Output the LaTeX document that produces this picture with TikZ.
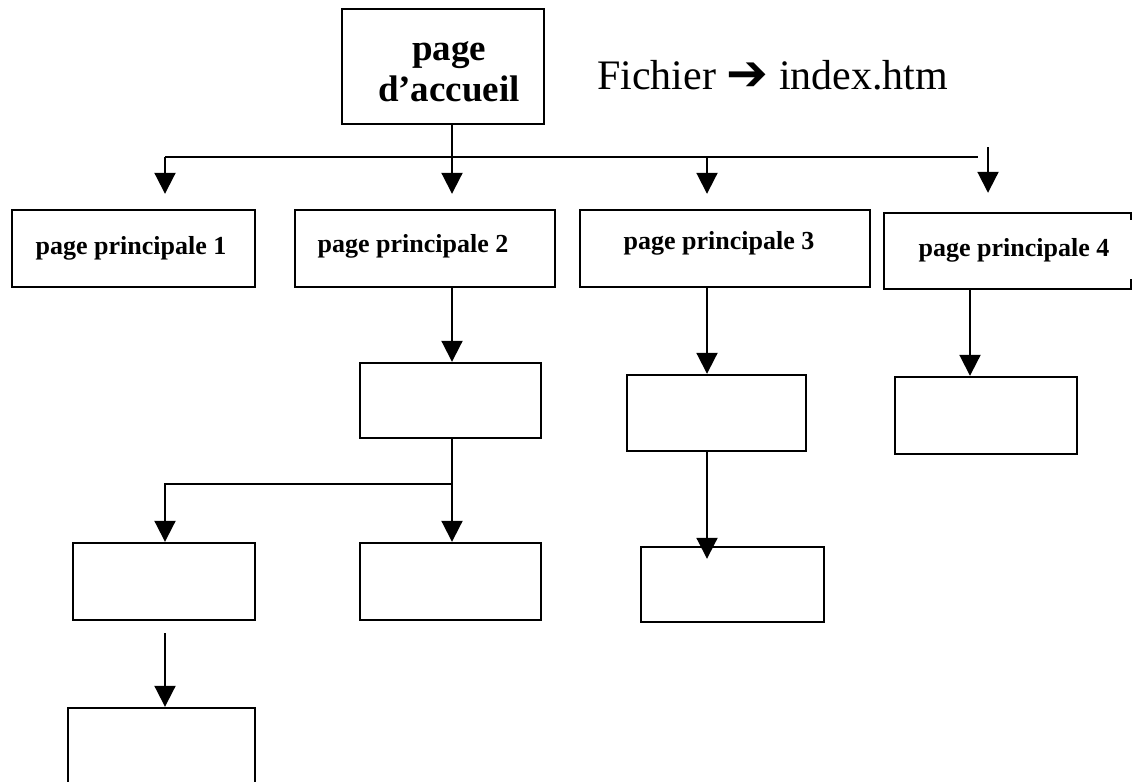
\documentclass[tikz,border=0pt]{standalone}
\usepackage{fontspec}
\setmainfont{Liberation Serif}
\newfontfamily\symfont{DejaVu Sans}
\usetikzlibrary{arrows.meta}
\begin{document}
\begin{tikzpicture}[x=1pt,y=-1pt,
  boxline/.style={line width=2.4pt},
  box/.style={draw,boxline,inner sep=0pt},
  hollow/.style={inner sep=0pt},
  ppt/.style={font=\fontsize{26}{30}\selectfont\bfseries,inner sep=0pt},
  conn/.style={line width=2pt},
  arr/.style={conn,-{Triangle[length=21pt,width=21pt]}}
]
\useasboundingbox (0,0) rectangle (1139,781);
\clip (0,0) rectangle (1139,781);

% top
\node[box,minimum width=202,minimum height=115] (acc) at (443,66.5) {};
\node[align=center,inner sep=0pt,font=\fontsize{37}{41}\selectfont\bfseries] (acct) at (449,72) {page\\d’accueil};
\node[anchor=base west,inner sep=0pt,font=\fontsize{42}{48}\selectfont] (fich) at (597,90)
  {Fichier {\symfont\fontsize{50}{50}\selectfont\raisebox{-1pt}{➔}} index.htm};

% first row
\node[box,minimum width=243,minimum height=77] (pp1) at (133.5,248.5) {};
\node[ppt] (pp1t) at (131,248) {page principale 1};
\node[box,minimum width=260,minimum height=77] (pp2) at (425,248.5) {};
\node[ppt] (pp2t) at (413,246) {page principale 2};
\node[box,minimum width=290,minimum height=77] (pp3) at (725,248.5) {};
\node[ppt] (pp3t) at (719,243) {page principale 3};
\node[hollow,minimum width=247,minimum height=76] (pp4) at (1007.5,251) {};
\draw[boxline] ([yshift=-7pt]pp4.north east) -- (pp4.north east) -- (pp4.north west)
  -- (pp4.south west) -- (pp4.south east) -- ([yshift=10pt]pp4.south east);
\node[ppt] (pp4t) at (1014,250) {page principale 4};

% lower boxes
\node[box,minimum width=181,minimum height=75] (A) at (450.5,400.5) {};
\node[box,minimum width=182,minimum height=77] (B1) at (164,581.5) {};
\node[box,minimum width=181,minimum height=77] (B2) at (450.5,581.5) {};
\node[box,minimum width=187,minimum height=92] (C) at (161.5,754) {};
\node[box,minimum width=179,minimum height=76] (D) at (716.5,413) {};
\node[box,minimum width=183,minimum height=75] (E) at (732.5,584.5) {};
\node[box,minimum width=182,minimum height=77] (F) at (986,415.5) {};

% connector guide coordinates
\coordinate (busL) at (165,157);
\coordinate (busR) at (978,157);
\coordinate (x2) at (452,0);
\coordinate (x3) at (707,0);
\coordinate (x4) at (970,0);
\coordinate (s4) at (988,147);
\coordinate (j) at (452,484);

% connectors
\draw[conn] (busL) -- (busR);
\draw[arr,shorten >=15pt] (busL) -- (pp1.north -| busL);
\draw[arr,shorten >=15pt] (acc.south -| x2) -- (pp2.north -| x2);
\draw[arr,shorten >=15pt] (busL -| x3) -- (pp3.north -| x3);
\draw[arr,shorten >=20pt] (s4) -- (pp4.north -| s4);

\draw[arr] (pp2.south -| x2) -- (A.north -| x2);
\draw[arr] (A.south -| x2) -- (B2.north -| x2);
\draw[arr] (j) -- (j -| busL) -- (B1.north -| busL);
\draw[arr,shorten <=12pt] (B1.south -| busL) -- (C.north -| busL);

\draw[arr] (pp3.south -| x3) -- (D.north -| x3);
\draw[arr,shorten >=-13pt] (D.south -| x3) -- (E.north -| x3);

\draw[arr] (pp4.south -| x4) -- (F.north -| x4);
\end{tikzpicture}
\end{document}
